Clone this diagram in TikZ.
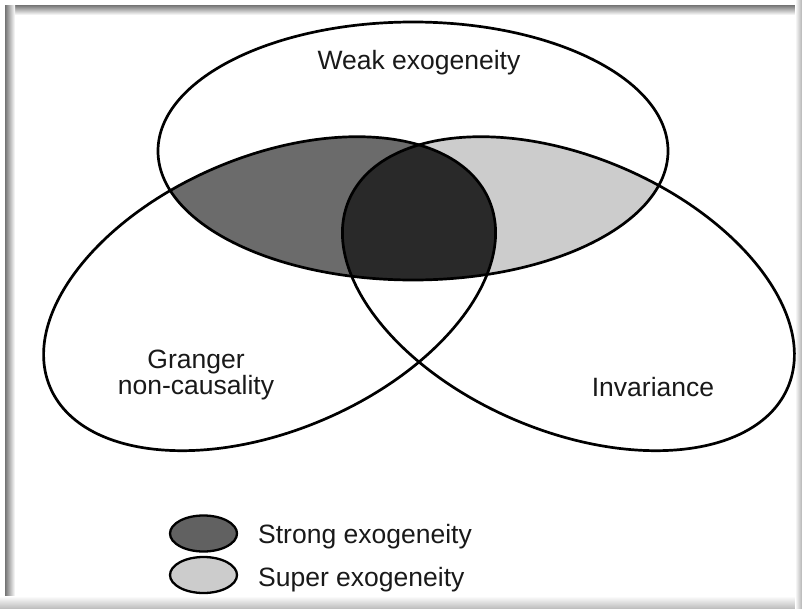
\documentclass[tikz,border=0pt]{standalone}
\usepackage{fontspec}
\setmainfont{Liberation Sans}
\definecolor{shadeMid}{gray}{0.42}
\definecolor{shadeLight}{gray}{0.80}
\definecolor{shadeDark}{gray}{0.16}
\definecolor{legStrong}{gray}{0.38}
\definecolor{legSuper}{gray}{0.80}
\begin{document}
\begin{tikzpicture}[x=1pt,y=-1pt,
  outline/.style={line width=2.7pt, black},
  lbl/.style={font=\fontsize{26.5}{24}\selectfont, inner sep=0pt, align=center, text=black!90},
  lefte/.style={rotate around={23.1:(269.6,293.7)}},
  righte/.style={rotate around={-23.1:(568.4,293.7)}},
]
\useasboundingbox (0,0) rectangle (802,608);
\fill[white] (0,0) rectangle (802,608);
% frame shadows
\shade[top color=black!55, bottom color=white] (6,5) rectangle (802,15);
\shade[left color=black!55, right color=white] (5,5) rectangle (15,608);
\shade[top color=white, bottom color=black!25] (0,596) rectangle (802,608);
\shade[left color=white, right color=black!30] (795,0) rectangle (802,608);
% fills
\begin{scope}
  \clip (413,151) ellipse [x radius=255, y radius=129];
  \fill[shadeMid, lefte] (269.6,293.7) ellipse [x radius=238.6, y radius=137];
  \fill[shadeLight, righte] (568.4,293.7) ellipse [x radius=238.6, y radius=137];
  \begin{scope}
    \clip[lefte] (269.6,293.7) ellipse [x radius=238.6, y radius=137];
    \fill[shadeDark, righte] (568.4,293.7) ellipse [x radius=238.6, y radius=137];
  \end{scope}
\end{scope}
% outlines
\draw[outline] (413,151) ellipse [x radius=255, y radius=129];
\draw[outline, lefte] (269.6,293.7) ellipse [x radius=238.6, y radius=137];
\draw[outline, righte] (568.4,293.7) ellipse [x radius=238.6, y radius=137];
% labels
\node[lbl, anchor=base] (weak) at (419,69) {Weak exogeneity};
\node[lbl] (granger) at (196,375) {Granger\\non-causality};
\node[lbl, anchor=base] (inv) at (653,396) {Invariance};
% legend
\draw[line width=2.3pt, fill=legStrong] (203.5,533.5) ellipse [x radius=33.5, y radius=18];
\draw[line width=2.3pt, fill=legSuper] (203.5,575) ellipse [x radius=33.5, y radius=18];
\node[lbl, anchor=base west] (strong) at (258,543) {Strong exogeneity};
\node[lbl, anchor=base west] (super) at (258,586) {Super exogeneity};
\end{tikzpicture}
\end{document}
